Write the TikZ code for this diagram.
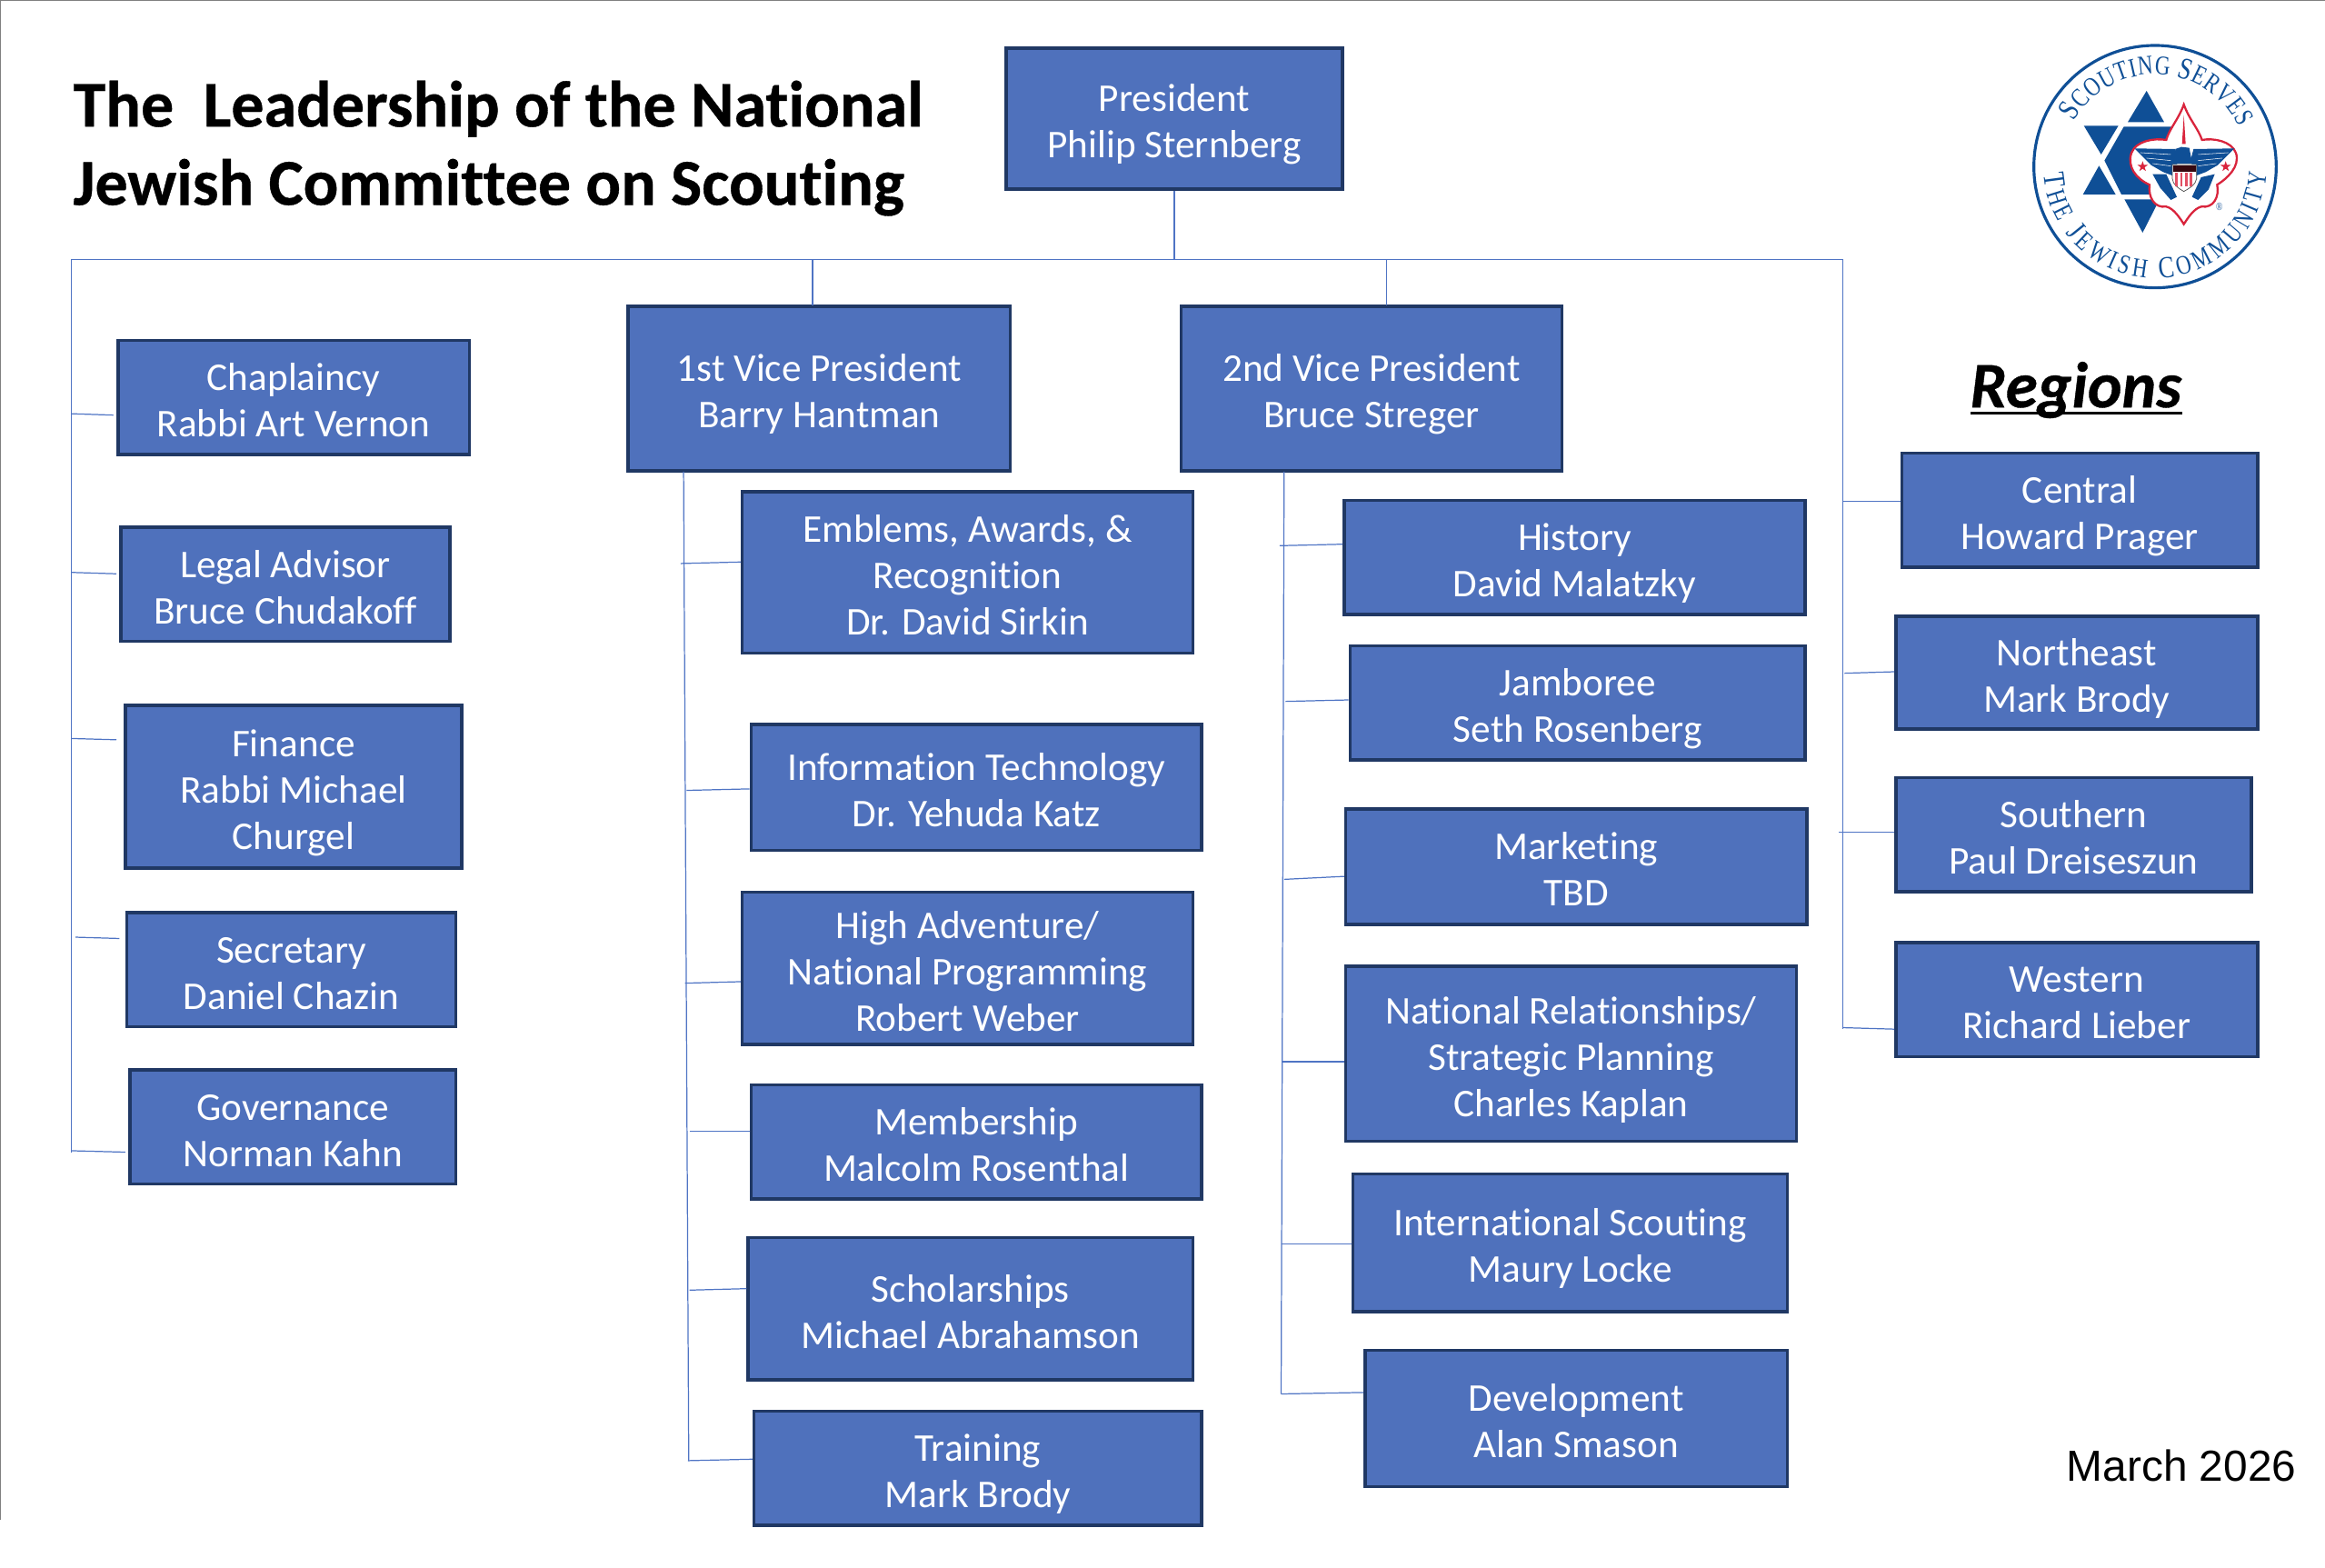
\documentclass[tikz,border=0pt]{standalone}
\usepackage{fontspec}
\setmainfont{Carlito}[Ligatures=NoCommon]
\newfontfamily\helv{Liberation Sans}
\newfontfamily\logoserif[FakeStretch=0.78]{Liberation Serif}
\usetikzlibrary{calc,decorations.text}
\definecolor{boxfill}{HTML}{4F71BC}
\definecolor{boxedge}{HTML}{203864}
\definecolor{wire}{HTML}{4F74C4}
\definecolor{scoutblue}{HTML}{0F4F96}
\definecolor{scoutred}{HTML}{D9243C}
\newcommand\bx[6]{\node[orgbox,minimum width={(#4-#2)*0.016314cm-0.5pt},minimum height={(#5-#3)*0.016314cm-0.5pt}] (#1) at ({(#2+#4)/2},{-(#3+#5)/2}) {\rule{0pt}{13.7pt}#6\rule[-3.5pt]{0pt}{3.5pt}};}
\newcommand\lbig{\fontsize{9.6}{10}\logoserif\color{scoutblue}}
\newcommand\lsmall{\fontsize{8.4}{10}\logoserif\color{scoutblue}}
\tikzset{
  orgbox/.style={draw=boxedge,fill=boxfill,line width=1pt,inner sep=0pt,text=white,align=center,
    font=\fontsize{12.3}{14.5}\selectfont},
  wireline/.style={draw=wire,line width=0.35pt},
  frameline/.style={draw=black!50,line width=0.4pt}
}
\begin{document}
\begin{tikzpicture}[x=0.016314cm,y=0.016314cm]
\useasboundingbox (0,0) rectangle (1568,-1056.8);
\draw[frameline] (0,-0.3) -- (1568,-0.3);
\draw[frameline] (0.3,0) -- (0.3,-1025);

\node[anchor=west,inner sep=0pt,align=left,font=\fontsize{20.5}{24.5}\selectfont\bfseries\addfontfeature{FakeBold=0.5}] (title) at (49,-100) {The\ \ Leadership of the National\\Jewish Committee on Scouting};
\node[anchor=east,inner sep=0pt,font=\fontsize{13.6}{16}\helv] (date) at (1549,-988.5) {March 2026};
\node[inner sep=0pt,font=\fontsize{20.3}{22}\selectfont\bfseries\itshape\addfontfeature{FakeBold=0.5}] (regions) at (1400,-263) {Regions};
\draw[black,line width=1pt] (1329,-278.5) -- (1472,-278.5);

\bx{pres}{678}{32}{906}{128}{President\\Philip Sternberg}
\bx{vpa}{423}{206}{682}{318}{1st Vice President\\Barry Hantman}
\bx{vpb}{796}{206}{1054}{318}{2nd Vice President\\Bruce Streger}
\bx{chap}{79}{229}{317}{307}{Chaplaincy\\Rabbi Art Vernon}
\bx{legal}{81}{355}{304}{433}{Legal Advisor\\Bruce Chudakoff}
\bx{fin}{84}{475}{312}{586}{Finance\\Rabbi Michael\\Churgel}
\bx{sec}{85}{615}{308}{693}{Secretary\\Daniel Chazin}
\bx{gov}{87}{721}{308}{799}{Governance\\Norman Kahn}
\bx{emb}{500}{331}{805}{441}{Emblems, Awards, \&\\Recognition\\Dr. David Sirkin}
\bx{info}{506}{488}{811}{574}{Information Technology\\Dr. Yehuda Katz}
\bx{high}{500}{601}{805}{705}{High Adventure/\\National Programming\\Robert Weber}
\bx{memb}{506}{731}{811}{809}{Membership\\Malcolm Rosenthal}
\bx{schol}{504}{834}{805}{931}{Scholarships\\Michael Abrahamson}
\bx{train}{508}{951}{811}{1029}{Training\\Mark Brody}
\bx{hist}{906}{337}{1218}{415}{History\\David Malatzky}
\bx{jamb}{910}{435}{1218}{513}{Jamboree\\Seth Rosenberg}
\bx{mark}{907}{545}{1219}{624}{Marketing\\TBD}
\bx{natl}{907}{651}{1212}{770}{National Relationships/\\Strategic Planning\\Charles Kaplan}
\bx{intl}{912}{791}{1206}{885}{International Scouting\\Maury Locke}
\bx{dev}{920}{910}{1206}{1003}{Development\\Alan Smason}
\bx{cent}{1282}{305}{1523}{383}{Central\\Howard Prager}
\bx{ne}{1278}{415}{1523}{492}{Northeast\\Mark Brody}
\bx{south}{1278}{524}{1519}{602}{Southern\\Paul Dreiseszun}
\bx{west}{1278}{635}{1523}{713}{Western\\Richard Lieber}

% trunk and junction points
\coordinate (busL) at (48,-175);
\coordinate (busR) at (1243,-175);
\coordinate (leftEnd) at (48,-777);
\coordinate (rightEnd) at (1243,-694);
\coordinate (aTop) at (461,-318);
\coordinate (aEnd) at (464.5,-985);
\coordinate (bTop) at (866,-318);
\coordinate (bEnd) at (864,-940);

\draw[wireline] (pres.south) -- (pres.south |- busL);
\draw[wireline] (busL) -- (busR);
\draw[wireline] (548,-175) -- (548,-206);
\draw[wireline] (935,-175) -- (935,-206);
\draw[wireline] (busL) -- (leftEnd);
\draw[wireline] (busR) -- (rightEnd);
\draw[wireline] (aTop) -- (aEnd);
\draw[wireline] (bTop) -- (bEnd);

\foreach \tgt/\sx/\sy/\gap/\dy in {chap/48/279/2/-1,legal/48/386/2/-1,fin/48/498/5/-1,sec/51/632/4/-1,gov/48/776/2/-1,
   emb/459/380/0/1,info/463/533/0/1,high/462/663/0/1,memb/465/763/0/0,schol/465/870/0/1,train/464/985/0/1,
   hist/863/368/0/1,jamb/867/473/0/1,mark/866/593/0/2,natl/864/716/0/0,intl/864/839/0/0,dev/864/940/0/1,
   cent/1243/338/0/0,ne/1244/454/0/1,south/1240/561/0/0,west/1243/693/0/-1}{
  \coordinate (st) at (\sx,-\sy);
  \draw[wireline,shorten >=\gap*0.016314cm] (st) -- ($(st -| \tgt.west)+(0,\dy)$);
}

% logo
\begin{scope}[shift={(1336.3,-12.26)},scale=0.2043]
  \draw[scoutblue,line width=0.9pt] (573,-490) circle[radius=400];
  \path[decorate,decoration={text along path,text align={fit to path},
     text={|\lbig|S|\lsmall|COUTING |\lbig|S|\lsmall|ERVES}}]
     ($(573,-490)+(151:305)$) arc[start angle=151,end angle=25,radius=305];
  \path[decorate,decoration={text along path,text align={fit to path},
     text={|\lbig|T|\lsmall|HE |\lbig|J|\lsmall|EWISH |\lbig|C|\lsmall|OMMUNITY}}]
     ($(573,-490)+(184:368)$) arc[start angle=184,end angle=357,radius=368];
  % star of David
  \fill[scoutblue] (545,-240) -- (483,-343) -- (603,-343) -- cycle;
  \fill[scoutblue] (338,-355) -- (452,-355) -- (395,-450) -- cycle;
  \fill[scoutblue] (335,-582) -- (443,-582) -- (388,-487) -- cycle;
  \fill[scoutblue] (472,-598) -- (588,-598) -- (532,-708) -- cycle;
  \fill[scoutblue] (470,-358) -- (640,-358) -- (640,-582) -- (462,-582) -- (406,-470) -- cycle;
  % fleur-de-lis
  \filldraw[fill=white,draw=scoutred,line width=0.65pt]
    (668,-285) .. controls (650,-335) and (620,-365) .. (610,-402)
    .. controls (570,-395) and (510,-405) .. (495,-445)
    .. controls (480,-490) and (510,-530) .. (555,-550)
    .. controls (550,-590) and (570,-628) .. (610,-622)
    .. controls (635,-628) and (655,-660) .. (668,-680)
    .. controls (681,-660) and (701,-628) .. (726,-622)
    .. controls (766,-628) and (786,-590) .. (778,-550)
    .. controls (810,-530) and (855,-490) .. (840,-445)
    .. controls (825,-405) and (765,-395) .. (728,-402)
    .. controls (716,-365) and (686,-335) .. (668,-285) -- cycle;
  \fill[scoutred] (668,-320) -- (662,-415) -- (674,-415) -- cycle;
  % eagle
  \fill[scoutblue] (505,-430) -- (640,-432) -- (650,-470) -- (632,-520) -- (600,-508) -- (560,-485) -- (530,-455) -- cycle;
  \fill[scoutblue] (835,-430) -- (700,-432) -- (690,-470) -- (708,-520) -- (740,-508) -- (780,-485) -- (810,-455) -- cycle;
  \fill[scoutblue] (640,-432) -- (660,-425) -- (686,-428) -- (696,-480) -- (645,-480) -- cycle;
  \fill[scoutblue] (565,-515) -- (610,-515) -- (645,-590) -- (625,-600) -- (590,-560) -- cycle;
  \fill[scoutblue] (770,-515) -- (725,-525) -- (695,-590) -- (715,-600) -- (750,-565) -- cycle;
  \draw[white,line width=0.15pt] (525,-444) -- (625,-450) (545,-462) -- (625,-470) (565,-480) -- (625,-488)
        (815,-444) -- (715,-450) (795,-462) -- (715,-470) (775,-480) -- (715,-488);
  % shield
  \filldraw[fill=white,draw=black!70,line width=0.2pt] (630,-483) -- (710,-483) -- (710,-530) .. controls (708,-550) and (685,-562) .. (668,-572) .. controls (651,-562) and (632,-550) .. (630,-530) -- cycle;
  \fill[black!75!scoutred] (632,-485) rectangle (708,-508);
  \foreach \sx in {640,656,672,688}{\fill[scoutred!80] (\sx,-510) rectangle ++(8,-45);}
  % small stars
  \foreach \cx/\cy in {532/-490,806/-490}{
    \fill[scoutred] plot[samples at={0,...,9},variable=\k] ({\cx+(mod(\k,2)==0?18:7)*cos(90+36*\k)},{\cy+(mod(\k,2)==0?18:7)*sin(90+36*\k)}) -- cycle;
  }
  \node[inner sep=0pt,text=scoutblue,font=\fontsize{3.5}{4}\logoserif] (reg) at (785,-623) {®};
\end{scope}
\end{tikzpicture}
\end{document}
